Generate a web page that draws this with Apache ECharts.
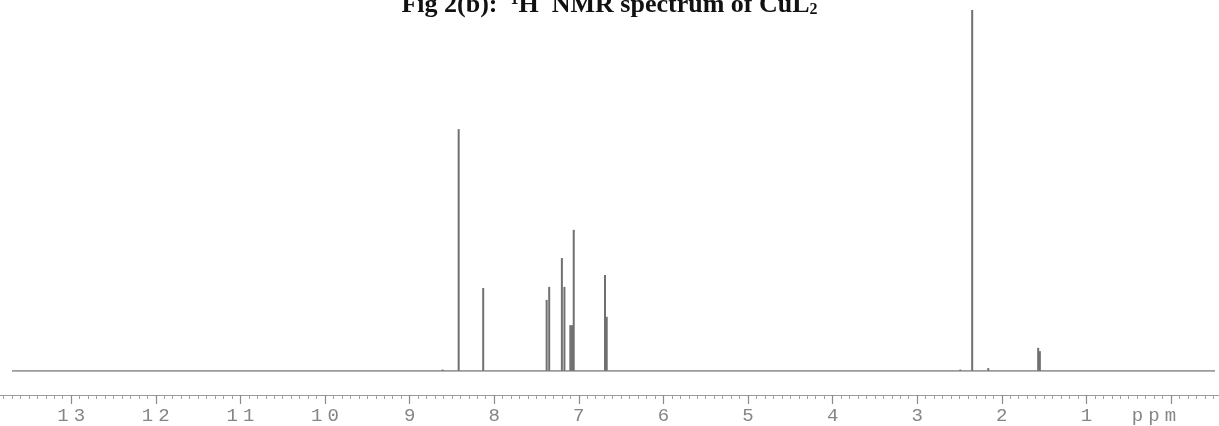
<!DOCTYPE html>
<html>
<head>
<meta charset="utf-8">
<script src="https://cdn.jsdelivr.net/npm/echarts@6/dist/echarts.min.js"></script>
<style>html,body{margin:0;padding:0;background:#fff}#c{width:1219px;height:426px}</style>
</head>
<body>
<div id="c"></div>
<script>
// chemical shifts (ppm) of the peaks
var peakPpm = [8.61, 8.42, 8.13, 7.38, 7.35, 7.20, 7.17, 7.10, 7.08, 7.06, 6.69, 6.67, 2.49, 2.35, 2.16, 1.57, 1.55];
// relative peak heights (tallest = 100)
var peakHeight = [0.4, 67.0, 23.0, 19.7, 23.3, 31.3, 23.3, 12.7, 12.7, 39.1, 26.6, 15.0, 0.4, 100, 0.8, 6.4, 5.5];
// baseline end points
var baselinePpm = [13.7, -0.52];
var baselineVal = [0, 0];
// tick labels on the ppm axis
var tickValues = [13, 12, 11, 10, 9, 8, 7, 6, 5, 4, 3, 2, 1, 0];
var tickLabels = ['13', '12', '11', '10', '9', '8', '7', '6', '5', '4', '3', '2', '1', 'ppm'];

var peaks = peakPpm.map(function (p, i) { return [p, peakHeight[i]]; });
var baseline = baselinePpm.map(function (p, i) { return [p, baselineVal[i]]; });

var chart = echarts.init(document.getElementById('c'), null, {renderer: 'canvas'});
chart.setOption({
  animation: false,
  backgroundColor: '#ffffff',
  title: {
    text: 'Fig 2(b):  {sup|1}H  NMR spectrum of CuL{sub|2}',
    left: 'center',
    top: -13,
    textStyle: {
      fontFamily: 'Liberation Serif',
      fontWeight: 'bold',
      fontSize: 26,
      color: '#111',
      rich: {
        sup: {fontFamily: 'Liberation Serif', fontWeight: 'bold', fontSize: 16, color: '#111', verticalAlign: 'top'},
        sub: {fontFamily: 'Liberation Serif', fontWeight: 'bold', fontSize: 16, color: '#111', verticalAlign: 'bottom'}
      }
    }
  },
  grid: {left: -13.4, right: -36.6, top: 10, bottom: 55, containLabel: false, outerBoundsMode: 'none'},
  xAxis: {
    type: 'value',
    inverse: true,
    min: -1,
    max: 14,
    interval: 1,
    offset: 24,
    axisLine: {show: true, onZero: false, lineStyle: {color: '#9a9a9a', width: 1}},
    axisTick: {show: true, length: 9, lineStyle: {color: '#8a8a8a', width: 1.2}},
    minorTick: {show: true, splitNumber: 10, length: 4, lineStyle: {color: '#a0a0a0', width: 1}},
    splitLine: {show: false},
    axisLabel: {
      margin: 11,
      fontFamily: 'Liberation Mono',
      fontSize: 19,
      lineHeight: 19,
      color: '#858585',
      formatter: function (v) {
        var i = tickValues.indexOf(Math.round(v));
        if (i < 0) return '';
        var s = tickLabels[i];
        var out = s.split('').map(function (ch) { return '{d|' + ch + '}'; }).join('');
        if (s === 'ppm') out += '{gap|}';
        return out;
      },
      rich: {
        d: {width: 16.5, align: 'center', fontFamily: 'Liberation Mono', fontSize: 19, lineHeight: 19, color: '#858585'},
        gap: {width: 34, fontSize: 19, lineHeight: 19}
      }
    }
  },
  yAxis: {type: 'value', min: 0, max: 100, show: false},
  series: [
    {
      type: 'line',
      data: baseline,
      symbol: 'none',
      lineStyle: {color: '#7a7a7a', width: 1.5},
      silent: true
    },
    {
      type: 'custom',
      data: peaks,
      encode: {x: 0, y: 1},
      renderItem: function (params, api) {
        var p0 = api.coord([api.value(0), 0]);
        var p1 = api.coord([api.value(0), api.value(1)]);
        return {
          type: 'line',
          shape: {x1: p0[0], y1: p0[1], x2: p1[0], y2: p1[1]},
          style: {stroke: '#707070', lineWidth: 2}
        };
      },
      silent: true
    }
  ]
});
</script>
</body>
</html>
